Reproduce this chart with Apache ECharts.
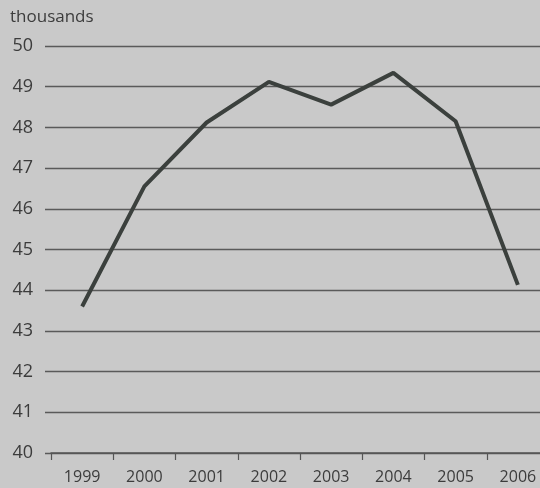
<!DOCTYPE html>
<html><head><meta charset="utf-8">
<script src="https://cdn.jsdelivr.net/npm/echarts@6/dist/echarts.min.js"></script>
<style>html,body{margin:0;padding:0;background:#c9c9c9}#c{width:540px;height:488px}</style>
</head><body><div id="c"></div>
<script>
const years = ['1999','2000','2001','2002','2003','2004','2005','2006'];
const values = [43.6, 46.55, 48.12, 49.12, 48.56, 49.34, 48.15, 44.13];
const yMin = 40, yMax = 50, yStep = 1;
const unitLabel = 'thousands';

const font = '"Open Sans", "Noto Sans", sans-serif';
const chart = echarts.init(document.getElementById('c'));
chart.setOption({
  backgroundColor: '#c9c9c9',
  animation: false,
  graphic: [{type:'text', left: 10, top: 9, style:{text: unitLabel, font: '17px ' + font, fill:'#3c3c3c'}}],
  grid: [
    {left: 45, right: 0, top: 46, bottom: 35, outerBoundsMode: 'none', containLabel: false},
    {left: 51, width: 498, top: 46, bottom: 35, outerBoundsMode: 'none', containLabel: false}
  ],
  xAxis: [
    {type:'category', gridIndex:0, data: years, show:false},
    {type:'category', gridIndex:1, data: years, boundaryGap:true,
     axisLine:{show:true, lineStyle:{color:'#555', width:1.5}},
     axisTick:{show:true, length:7, lineStyle:{color:'#555', width:1.2}},
     axisLabel:{color:'#3c3c3c', fontSize:16, fontFamily:font, margin:16}}
  ],
  yAxis: [
    {type:'value', gridIndex:0, min:yMin, max:yMax, interval:yStep,
     axisLine:{show:false}, axisTick:{show:false},
     axisLabel:{color:'#3c3c3c', fontSize:18, fontFamily:font, margin:12},
     splitLine:{show:true, lineStyle:{color:'#5a5a5a', width:1.3}}},
    {type:'value', gridIndex:1, min:yMin, max:yMax, interval:yStep, show:false}
  ],
  series: [{
    type:'line', xAxisIndex:1, yAxisIndex:1, data: values,
    symbol:'none', lineStyle:{color:'#3b403d', width:4}
  }]
});
</script></body></html>
